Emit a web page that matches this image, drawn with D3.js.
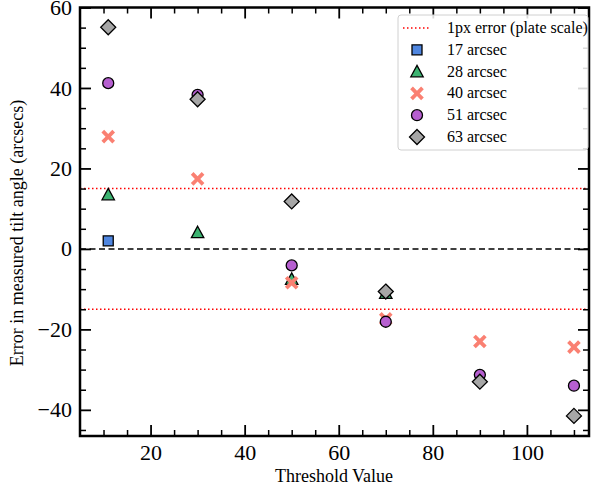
<!DOCTYPE html>
<html>
<head>
<meta charset="utf-8">
<script src="https://cdn.jsdelivr.net/npm/d3@7"></script>
<style>
  body { margin: 0; background: #fff; }
</style>
</head>
<body>
<div id="chart"></div>
<script>
const width = 591, height = 491;
const margin = {top: 7.5, right: 2, bottom: 55, left: 80};
const serif = "'Liberation Serif', 'Times New Roman', Times, 'DejaVu Serif', serif";

// data
const thresholds = [11, 30, 50, 70, 90, 110];
const seriesNames = ['17 arcsec', '28 arcsec', '40 arcsec', '51 arcsec', '63 arcsec'];
const err17 = [2.0, null, null, null, null, null];
const err28 = [13.5, 4.1, -7.5, -11.0, null, null];
const err40 = [27.9, 17.4, -8.4, -17.4, -23.0, -24.4];
const err51 = [41.2, 38.3, -4.1, -18.1, -31.3, -34.0];
const err63 = [55.1, 37.2, 11.8, -10.6, -33.0, -41.5];
const plateScale = 15;
const xTicks = [20, 40, 60, 80, 100];
const yTicks = [-40, -20, 0, 20, 40, 60];

const series = [
  {name: seriesNames[0], values: err17, shape: 'square', fill: '#4f86e0'},
  {name: seriesNames[1], values: err28, shape: 'triangle', fill: '#3cb371'},
  {name: seriesNames[2], values: err40, shape: 'x', fill: '#fa8072'},
  {name: seriesNames[3], values: err51, shape: 'circle', fill: '#b65fd0'},
  {name: seriesNames[4], values: err63, shape: 'diamond', fill: '#a6a6a6'}
];

const svg = d3.select('#chart').append('svg')
  .attr('width', width)
  .attr('height', height)
  .attr('font-family', serif);

const w = width - margin.left - margin.right,
  h = height - margin.top - margin.bottom;

const x = d3.scaleLinear().domain([5, 113.2]).range([margin.left, margin.left + w]);
const y = d3.scaleLinear().domain([-46.5, 60]).range([margin.top + h, margin.top]);

const g = svg.append('g');

// reference lines
g.append('line')
  .attr('x1', x.range()[0]).attr('x2', x.range()[1])
  .attr('y1', y(0)).attr('y2', y(0))
  .attr('stroke', '#000').attr('stroke-width', 1.5)
  .attr('stroke-dasharray', '6,3.5');

[plateScale, -plateScale].forEach(v => {
  g.append('line')
    .attr('x1', x.range()[0]).attr('x2', x.range()[1])
    .attr('y1', y(v)).attr('y2', y(v))
    .attr('stroke', '#ff0000').attr('stroke-width', 1.5)
    .attr('stroke-dasharray', '1.5,2.5');
});

function markerPath(shape) {
  if (shape === 'square') return d3.symbol(d3.symbolSquare, 100)();
  if (shape === 'triangle') return 'M0,-6.2L6.2,5.2L-6.2,5.2Z';
  if (shape === 'circle') return d3.symbol(d3.symbolCircle, 95)();
  if (shape === 'diamond') return 'M0,-7.5L7.5,0L0,7.5L-7.5,0Z';
  // filled X
  const a = 6.8, t = 2.7;
  return `M${-a},${-a + t}L${-a + t},${-a}L0,${-t}L${a - t},${-a}L${a},${-a + t}L${t},0L${a},${a - t}L${a - t},${a}L0,${t}L${-a + t},${a}L${-a},${a - t}L${-t},0Z`;
}

function drawMarker(sel, s) {
  sel.append('path')
    .attr('d', markerPath(s.shape))
    .attr('fill', s.fill)
    .attr('stroke', s.shape === 'x' ? 'none' : '#000')
    .attr('stroke-width', 1.3);
}

series.forEach(s => {
  const pts = thresholds.map((t, i) => ({t: t, v: s.values[i]})).filter(d => d.v !== null);
  g.append('g').selectAll('g')
    .data(pts)
    .enter().append('g')
    .attr('transform', d => 'translate(' + x(d.t) + ',' + y(d.v) + ')')
    .each(function () { drawMarker(d3.select(this), s); });
});

// axes with inward ticks on all sides
const fmt = d => (d < 0 ? '\u2212' + Math.abs(d) : '' + d);
const xMinor = d3.range(10, 113, 5).filter(d => d % 20 !== 0);
const yMinor = d3.range(-45, 60, 5).filter(d => d % 20 !== 0);

function tickAxis(axis, ticks, minor, transform, labels) {
  const a1 = svg.append('g').attr('transform', transform)
    .call(axis.tickValues(ticks).tickSize(-11).tickPadding(8).tickFormat(labels ? fmt : ''));
  a1.attr('font-family', serif);
  a1.selectAll('line').attr('stroke-width', 1.8);
  a1.select('.domain').remove();
  a1.selectAll('text').attr('font-size', 22).attr('fill', '#000').attr('font-family', serif);
  const a2 = svg.append('g').attr('transform', transform)
    .call(axis.tickValues(minor).tickSize(-6).tickFormat(''));
  a2.selectAll('line').attr('stroke-width', 1.5);
  a2.select('.domain').remove();
}

tickAxis(d3.axisBottom(x), xTicks, xMinor, 'translate(0,' + (margin.top + h) + ')', true);
tickAxis(d3.axisTop(x), xTicks, xMinor, 'translate(0,' + margin.top + ')', false);
tickAxis(d3.axisLeft(y), yTicks, yMinor, 'translate(' + margin.left + ',0)', true);
tickAxis(d3.axisRight(y), yTicks, yMinor, 'translate(' + (margin.left + w) + ',0)', false);

svg.append('rect')
  .attr('x', margin.left).attr('y', margin.top)
  .attr('width', w).attr('height', h)
  .attr('fill', 'none').attr('stroke', '#000').attr('stroke-width', 2.5);

// axis labels
svg.append('text')
  .attr('x', x(59)).attr('y', 482)
  .attr('text-anchor', 'middle').attr('font-size', 18)
  .text('Threshold Value');

svg.append('text')
  .attr('transform', 'translate(23,' + 233 + ') rotate(-90)')
  .attr('text-anchor', 'middle').attr('font-size', 18)
  .text('Error in measured tilt angle (arcsecs)');

// legend
const lg = svg.append('g').attr('transform', 'translate(398,15)');
lg.append('rect')
  .attr('width', 190).attr('height', 135).attr('rx', 3)
  .attr('fill', '#fff').attr('fill-opacity', 0.85)
  .attr('stroke', '#d0d0d0').attr('stroke-width', 1);

const rowY = i => 13 + i * 21.8;
lg.append('line')
  .attr('x1', 5).attr('x2', 33).attr('y1', rowY(0)).attr('y2', rowY(0))
  .attr('stroke', '#ff0000').attr('stroke-width', 1.5)
  .attr('stroke-dasharray', '1.5,2.5');
lg.append('text')
  .attr('x', 49).attr('y', rowY(0) + 5).attr('font-size', 16)
  .text('1px error (plate scale)');

series.forEach((s, i) => {
  const row = lg.append('g').attr('transform', 'translate(19,' + rowY(i + 1) + ')');
  drawMarker(row, s);
  lg.append('text')
    .attr('x', 49).attr('y', rowY(i + 1) + 5).attr('font-size', 16)
    .text(s.name);
});
</script>
</body>
</html>
